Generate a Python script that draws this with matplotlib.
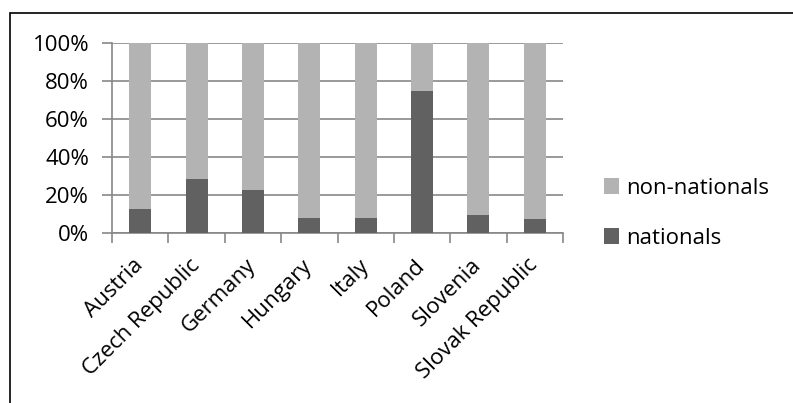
import numpy as np
import matplotlib.pyplot as plt
from matplotlib.patches import Rectangle

countries = ["Austria", "Czech Republic", "Germany", "Hungary", "Italy",
             "Poland", "Slovenia", "Slovak Republic"]
nationals = [12.6, 28.4, 22.6, 8.0, 8.0, 74.9, 9.5, 7.4]
non_nationals = [100 - v for v in nationals]
yticks = [0, 20, 40, 60, 80, 100]

plt.rcParams['font.family'] = ['Open Sans', 'DejaVu Sans']

fig = plt.figure(figsize=(7.93, 4.03), dpi=100)
ax = fig.add_axes([112 / 793, 1 - 233 / 403, 451 / 793, 190 / 403])

x = np.arange(len(countries))
dark = '#616161'
light = '#b3b3b3'
axis_col = '#878787'

ax.bar(x, nationals, width=0.39, color=dark, label='nationals', zorder=3)
ax.bar(x, non_nationals, width=0.39, bottom=nationals, color=light,
       label='non-nationals', zorder=3)

ax.set_xlim(-0.5, len(countries) - 0.5)
ax.set_ylim(0, 100)
ax.set_yticks(yticks)
ax.set_yticklabels([f"{t}%" for t in yticks], fontsize=16)
ax.yaxis.grid(True, color=axis_col, linewidth=1.2, zorder=0)
ax.tick_params(axis='y', length=7, color=axis_col, width=1.2, pad=9.5)

# ticks between categories, labels at category centres
ax.set_xticks(np.arange(len(countries) + 1) - 0.5)
ax.set_xticklabels([])
ax.set_xticks(x, minor=True)
ax.set_xticklabels(countries, minor=True, rotation=45, ha='right',
                   va='center', rotation_mode='anchor', fontsize=16)
ax.tick_params(axis='x', which='major', length=7, color=axis_col, width=1.2)
ax.tick_params(axis='x', which='minor', length=0, pad=21)

for s in ['top', 'right']:
    ax.spines[s].set_visible(False)
for s in ['left', 'bottom']:
    ax.spines[s].set_color(axis_col)
    ax.spines[s].set_linewidth(1.2)

handles, labels = ax.get_legend_handles_labels()
ax.legend(handles[::-1], labels[::-1], loc='center left',
          bbox_to_anchor=(1.046, 0.104), frameon=False, fontsize=16,
          handlelength=0.7, handleheight=0.7, handletextpad=0.3,
          labelspacing=1.3)

fig.patches.append(Rectangle((10 / 793, -0.05), 1.1, 1 - 13 / 403 + 0.05,
                             transform=fig.transFigure, fill=False,
                             edgecolor='black', linewidth=1.2))

fig.savefig('out.png', dpi=100)
